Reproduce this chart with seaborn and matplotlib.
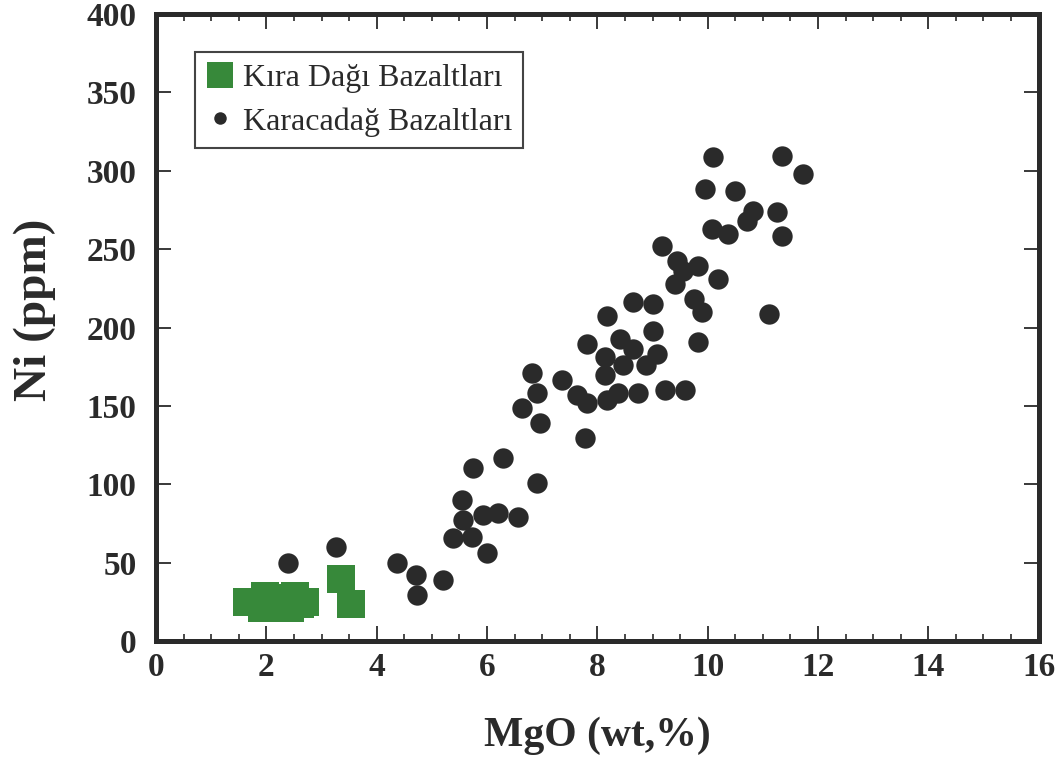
import numpy as np
import pandas as pd
import matplotlib
matplotlib.use("Agg")
import matplotlib.pyplot as plt
import seaborn as sns
from matplotlib.ticker import MultipleLocator
from matplotlib.lines import Line2D

# Kıra Dağı Bazaltları (green squares)
kira_mgo = [1.65, 1.92, 1.97, 2.25, 2.43, 2.52, 2.70, 2.16, 2.61, 3.35, 3.53]
kira_ni = [24.9, 21.1, 28.8, 27.5, 21.1, 28.8, 24.9, 23.0, 23.6, 39.6, 23.6]

# Karacadağ Bazaltları (black dots)
kara_mgo = [2.39, 3.26, 4.37, 4.71, 4.73, 5.20, 5.38, 5.54, 5.56, 5.72,
            5.92, 6.20, 6.56, 6.00, 5.74, 6.29, 6.90, 6.63, 6.81, 6.90,
            6.96, 7.36, 7.63, 7.81, 7.77, 7.81, 8.17, 8.13, 8.13, 8.17,
            8.37, 8.41, 8.46, 8.64, 8.64, 8.73, 9.00, 9.00, 8.89, 9.08,
            9.22, 9.18, 9.40, 9.44, 9.55, 9.58, 9.82, 9.76, 9.89, 9.82,
            9.95, 10.09, 10.07, 10.18, 10.36, 10.49, 10.71, 10.82, 11.12, 11.25,
            11.34, 11.34, 11.72]
kara_ni = [49.9, 60.1, 49.9, 42.2, 29.4, 39.0, 65.8, 90.1, 77.3, 66.5,
           80.5, 81.8, 79.3, 56.2, 110.6, 117.0, 101.0, 148.9, 171.3, 158.5,
           139.3, 166.8, 157.2, 152.1, 129.8, 189.2, 207.1, 181.5, 170.0, 154.0,
           158.5, 192.4, 176.4, 186.0, 216.0, 158.5, 214.8, 197.5, 176.4, 182.8,
           160.4, 251.8, 227.6, 242.3, 235.9, 160.4, 239.1, 218.0, 209.7, 190.5,
           288.3, 308.7, 262.7, 230.7, 259.5, 287.0, 267.8, 274.2, 208.4, 273.6,
           309.4, 258.2, 297.9]

x_ticks = [0, 2, 4, 6, 8, 10, 12, 14, 16]
y_ticks = [0, 50, 100, 150, 200, 250, 300, 350, 400]

GREEN = "#37893a"
DARK = "#2a2a2a"

sns.set_theme(style="white")
plt.rcParams["font.family"] = ["Liberation Serif", "DejaVu Serif"]

fig = plt.figure(figsize=(10.62, 7.69), dpi=100)
ax = fig.add_axes([0.147, 0.1664, 0.831, 0.8154])

kira = pd.DataFrame({"MgO": kira_mgo, "Ni": kira_ni})
kara = pd.DataFrame({"MgO": kara_mgo, "Ni": kara_ni})

sns.scatterplot(data=kira, x="MgO", y="Ni", marker="s", s=430, color=GREEN,
                linewidth=0, ax=ax, zorder=3)
sns.scatterplot(data=kara, x="MgO", y="Ni", marker="o", s=215, color=DARK,
                linewidth=0, ax=ax, zorder=4)

ax.set_xlim(0, 16)
ax.set_ylim(0, 400)
ax.set_xticks(x_ticks)
ax.set_yticks(y_ticks)
ax.xaxis.set_minor_locator(MultipleLocator(0.5))
ax.tick_params(which="both", direction="in", top=True, right=True,
               bottom=True, left=True, color=DARK)
ax.tick_params(axis="x", which="major", length=11, width=1.3, labelsize=24,
               pad=8, labelcolor=DARK)
ax.tick_params(axis="y", which="major", length=11, width=1.3, labelsize=24,
               pad=14, labelcolor=DARK)
ax.tick_params(axis="x", which="minor", length=5, width=1.2)
ax.tick_params(axis="y", which="minor", left=False, right=False)
for lbl in ax.get_xticklabels() + ax.get_yticklabels():
    lbl.set_fontweight("bold")
for sp in ax.spines.values():
    sp.set_linewidth(3.6)
    sp.set_color(DARK)
    sp.set_visible(True)

ax.set_xlabel("MgO (wt,%)", fontsize=30, fontweight="bold", color=DARK,
              labelpad=24)
ax.set_ylabel("Ni (ppm)", fontsize=34, fontweight="bold", color=DARK)
ax.yaxis.set_label_coords(-0.113, 0.528)

handles = [
    Line2D([], [], marker="s", linestyle="none", markersize=19,
           markerfacecolor=GREEN, markeredgewidth=0),
    Line2D([], [], marker="o", linestyle="none", markersize=9,
           markerfacecolor=DARK, markeredgewidth=0),
]
leg = ax.legend(handles, ["Kıra Dağı Bazaltları", "Karacadağ Bazaltları"],
                loc="upper left", bbox_to_anchor=(0.044, 0.939),
                borderaxespad=0, fontsize=23, frameon=True, fancybox=False,
                framealpha=1, edgecolor="#444444", handlelength=0.85,
                handletextpad=0.3, borderpad=0.35, labelspacing=0.45)
leg.get_frame().set_linewidth(1.5)
for t in leg.get_texts():
    t.set_color(DARK)

fig.savefig("out.png", dpi=100)
